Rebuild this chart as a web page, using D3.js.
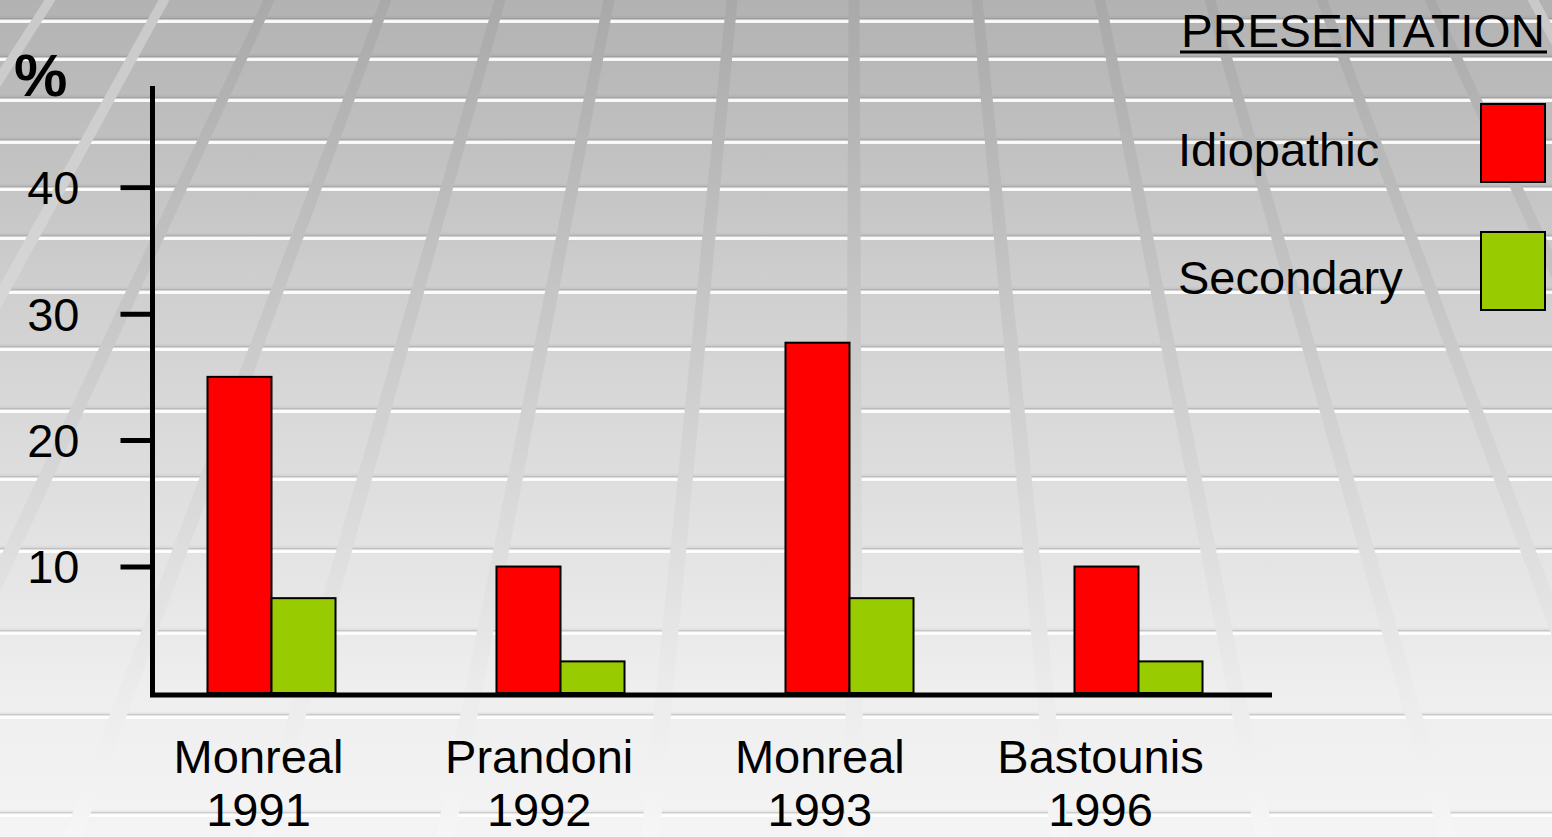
<!DOCTYPE html>
<html><head><meta charset="utf-8">
<script src="https://cdn.jsdelivr.net/npm/d3@7"></script>
<style>html,body{margin:0;padding:0;overflow:hidden;background:#ddd}svg{display:block}</style>
</head><body><svg id="c" width="1552" height="837"></svg>
<script>
// ---- data ----
const categories = ["Monreal 1991", "Prandoni 1992", "Monreal 1993", "Bastounis 1996"];
const categoryLines = [["Monreal", "1991"], ["Prandoni", "1992"], ["Monreal", "1993"], ["Bastounis", "1996"]];
const seriesNames = ["Idiopathic", "Secondary"];
const idiopathic = [25, 10, 27.7, 10];
const secondary = [7.5, 2.5, 7.5, 2.5];
const yTicks = [10, 20, 30, 40];
const legendTitle = "PRESENTATION";
const yLabel = "%";
const seriesColors = ["#ff0000", "#99cc00"];

// ---- setup ----
const W = 1552, H = 837;
const FONT = "'Liberation Sans', Arial, Helvetica, sans-serif";
const svg = d3.select("#c");
const defs = svg.append("defs");

function grad(id, stops, user) {
  const g = defs.append("linearGradient").attr("id", id).attr("x1", 0).attr("y1", 0).attr("x2", 0).attr("y2", user ? H : 1);
  if (user) g.attr("gradientUnits", "userSpaceOnUse");
  stops.forEach(([o, c, a]) => g.append("stop").attr("offset", o).attr("stop-color", c).attr("stop-opacity", a == null ? 1 : a));
}
grad("bgGrad", [[0, "#b2b2b2"], [0.36, "#d0d0d0"], [0.82, "#eeeeee"], [1, "#f4f4f4"]]);
grad("stripeGrad", [[0, "#a9a9a9"], [0.36, "#c6c6c6"], [0.6, "#d9d9d9"], [0.82, "#ebebeb"], [1, "#f6f6f6"]], true);
grad("lightStripe", [[0, "#c9c9c9"], [0.35, "#d6d6d6"], [0.7, "#e9e9e9"], [1, "#f6f6f6"]], true);
grad("hGrad", [[0, "#000000", 0], [0.35, "#000000", 0.05], [0.6, "#ffffff", 0.6], [0.72, "#ffffff", 1], [1, "#ffffff", 0.85]]);

svg.append("rect").attr("width", W).attr("height", H).attr("fill", "url(#bgGrad)");

// decorative perspective floor
const bgG = svg.append("g");
const hLines = [21, 59, 100, 142, 189, 238, 292, 349, 411, 479, 551, 633, 717, 815];
bgG.selectAll("rect.h").data(hLines).join("rect").attr("class", "h")
  .attr("x", 0).attr("width", W).attr("y", d => d - 6).attr("height", 8).attr("fill", "url(#hGrad)");
const vp = [854, -1250];
const topXs = [50, 164, 269, 386, 500, 609, 732, 854, 977, 1100, 1210, 1322, 1430, 1533];
const lightSet = new Set([50, 164, 1533]);
function atY(x0, yy) { return vp[0] + (x0 - vp[0]) * (yy - vp[1]) / (0 - vp[1]); }
bgG.selectAll("path.v").data(topXs).join("path").attr("class", "v")
  .attr("d", x0 => {
    const hw = 5.5;
    return `M${atY(x0 - hw, 0)},0 L${atY(x0 + hw, 0)},0 L${atY(x0 + hw, H)},${H} L${atY(x0 - hw, H)},${H}Z`;
  })
  .attr("fill", x0 => lightSet.has(x0) ? "url(#lightStripe)" : "url(#stripeGrad)");

// ---- scales ----
const xLeft = 152.5, xRight = 1272;
const y = d3.scaleLinear().domain([0, 48]).range([693, 86]);
const x0 = d3.scaleBand().domain(categories).range([127, 1283]).paddingInner(0.557).paddingOuter(0.2785);
const x1 = d3.scaleBand().domain(seriesNames).range([0, x0.bandwidth()]);
const xLabel = d3.scalePoint().domain(categories).range([258, 1100]);
const color = d3.scaleOrdinal().domain(seriesNames).range(seriesColors);

const rows = categories.map((c, i) => ({ cat: c, vals: [{ s: seriesNames[0], v: idiopathic[i] }, { s: seriesNames[1], v: secondary[i] }] }));

// bars
const g = svg.append("g");
g.selectAll("g.grp").data(rows).join("g").attr("class", "grp")
  .attr("transform", d => `translate(${x0(d.cat)},0)`)
  .selectAll("rect").data(d => d.vals).join("rect")
  .attr("x", d => x1(d.s)).attr("width", x1.bandwidth())
  .attr("y", d => y(d.v)).attr("height", d => y(0) - y(d.v))
  .attr("fill", d => color(d.s)).attr("stroke", "#000").attr("stroke-width", 2);

// y axis
const yAxis = svg.append("g").attr("transform", `translate(${xLeft},0)`)
  .call(d3.axisLeft(y).tickValues(yTicks).tickSize(32).tickSizeOuter(0).tickPadding(41).tickFormat(d3.format("d")));
yAxis.select(".domain").attr("stroke", "#000").attr("stroke-width", 5).attr("d", `M0,${y.range()[1]}V${y(0) + 4}`);
yAxis.selectAll(".tick line").attr("stroke", "#000").attr("stroke-width", 5);
yAxis.selectAll(".tick text").attr("font-family", FONT).attr("font-size", 47).attr("fill", "#000").attr("dy", "0.35em");

// x axis
const xAxis = svg.append("g").attr("transform", `translate(0,${y(0) + 2})`)
  .call(d3.axisBottom(xLabel).tickSize(0).tickSizeOuter(0));
xAxis.select(".domain").attr("stroke", "#000").attr("stroke-width", 5).attr("d", `M${xLeft - 2.5},0H${xRight}`);
xAxis.selectAll(".tick text").each(function (d, i) {
  const t = d3.select(this).attr("y", null).attr("dy", null).text(null)
    .attr("font-family", FONT).attr("font-size", 47).attr("fill", "#000");
  categoryLines[i].forEach((ln, j) => t.append("tspan").attr("x", 0).attr("y", 78 + j * 53).text(ln));
});

// y label
svg.append("text").attr("x", 14).attr("y", 96).attr("font-family", FONT).attr("font-weight", "bold")
  .attr("font-size", 60).attr("fill", "#000").text(yLabel);

// legend
const leg = svg.append("g");
leg.append("text").attr("x", 1181).attr("y", 47).attr("font-family", FONT).attr("font-size", 46)
  .attr("textLength", 364).attr("lengthAdjust", "spacingAndGlyphs")
  .attr("fill", "#000").text(legendTitle);
leg.append("line").attr("x1", 1180).attr("x2", 1547).attr("y1", 52).attr("y2", 52).attr("stroke", "#000").attr("stroke-width", 3);
const legItems = leg.selectAll("g.li").data(seriesNames).join("g").attr("class", "li")
  .attr("transform", (d, i) => `translate(0,${i * 128})`);
legItems.append("text").attr("x", 1178).attr("y", 166).attr("font-family", FONT).attr("font-size", 47)
  .attr("fill", "#000").text(d => d);
legItems.append("rect").attr("x", 1481).attr("y", 104).attr("width", 64).attr("height", 78)
  .attr("fill", d => color(d)).attr("stroke", "#000").attr("stroke-width", 2);
</script>
</body></html>
